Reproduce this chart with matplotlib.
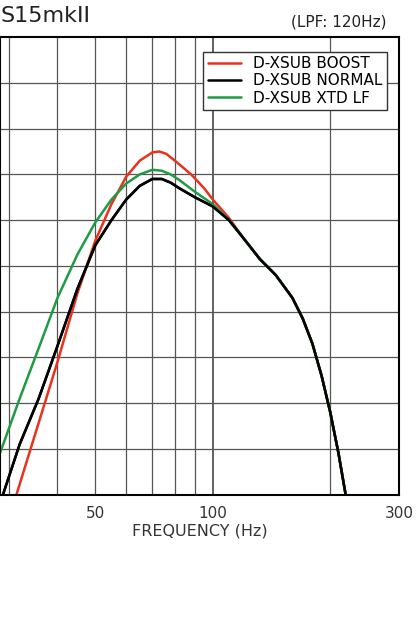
import numpy as np
import matplotlib
matplotlib.use('Agg')
import matplotlib.pyplot as plt

# frequency (Hz) / level (grid divisions)
f_black = [29.0, 32, 35.8, 40, 45, 50, 55, 60, 65, 70, 74, 78, 82, 90, 100, 110, 120, 132, 145, 160, 170, 180, 190, 200, 210, 219]
v_black = [0.0, 1.1, 2.1, 3.25, 4.5, 5.45, 6.0, 6.45, 6.75, 6.9, 6.9, 6.82, 6.7, 6.5, 6.3, 6.0, 5.6, 5.15, 4.8, 4.3, 3.85, 3.3, 2.6, 1.8, 0.9, 0.0]
f_red = [31.4, 35, 40, 45, 50, 55, 60, 65, 70, 73, 76, 80, 88, 95, 100, 110, 120, 132, 145, 160, 170, 180, 190, 200, 210, 219]
v_red = [0.0, 1.3, 2.9, 4.4, 5.55, 6.35, 6.95, 7.3, 7.48, 7.5, 7.45, 7.3, 7.0, 6.7, 6.45, 6.05, 5.6, 5.15, 4.8, 4.3, 3.85, 3.3, 2.6, 1.8, 0.9, 0.0]
f_green = [28.2, 32, 35.8, 40, 45, 50, 55, 60, 65, 70, 74, 78, 82, 90, 100, 110, 120, 132, 145, 160, 170, 180, 190, 200, 210, 219]
v_green = [0.8, 2.1, 3.2, 4.3, 5.25, 5.95, 6.45, 6.8, 7.0, 7.1, 7.08, 7.0, 6.88, 6.62, 6.35, 6.0, 5.6, 5.15, 4.8, 4.3, 3.85, 3.3, 2.6, 1.8, 0.9, 0.0]
grid_f = [30, 40, 50, 60, 70, 80, 90, 100, 200, 300]

fig = plt.figure(figsize=(4.2, 6.4), dpi=100)
ax = fig.add_axes([0.0, 0.227, 0.95, 0.715])

kw = dict(lw=1.8, solid_joinstyle='round', solid_capstyle='round')
ax.plot(f_red, v_red, color='#e8321e', label='D-XSUB BOOST', **kw)
ax.plot(f_black, v_black, color='black', label='D-XSUB NORMAL', **kw)
ax.plot(f_green, v_green, color='#1f9a45', label='D-XSUB XTD LF', **kw)
ax.plot(f_black, v_black, color='black', **kw)

ax.set_xscale('log')
ax.set_xlim(28.5, 300)
ax.set_ylim(0, 10)
for g in grid_f:
    ax.axvline(g, color='#555555', lw=0.9 if g != 100 else 1.3, zorder=0)
for y in range(1, 10):
    ax.axhline(y, color='#555555', lw=0.9, zorder=0)
ax.set_xticks([50, 100, 300])
ax.set_xticklabels(['50', '100', '300'])
ax.xaxis.set_minor_locator(matplotlib.ticker.NullLocator())
ax.set_yticks([])
ax.tick_params(axis='x', length=0, labelsize=11, colors='#333333', pad=8)
ax.set_xlabel('FREQUENCY (Hz)', fontsize=11.5, color='#333333', labelpad=2)
for s in ax.spines.values():
    s.set_linewidth(1.5)

leg = ax.legend(loc='upper right', bbox_to_anchor=(0.99, 0.985), fontsize=11,
                fancybox=False, framealpha=1, edgecolor='#333333',
                handlelength=2.2, borderpad=0.3, labelspacing=0.15)
leg.get_frame().set_linewidth(1)

fig.text(0.0, 0.975, 'S15mkII', fontsize=16, va='center', ha='left', color='#222222')
fig.text(0.92, 0.966, '(LPF: 120Hz)', fontsize=11, va='center', ha='right', color='#222222')

fig.savefig('out.png', dpi=100)
